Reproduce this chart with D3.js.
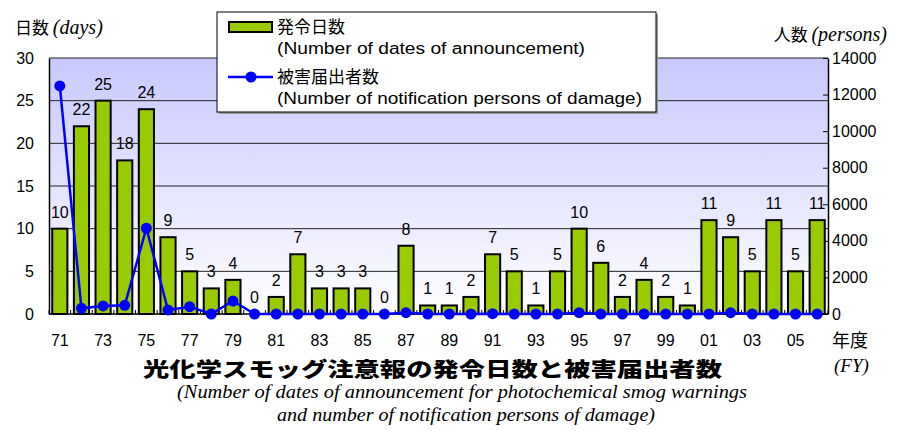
<!DOCTYPE html>
<html>
<head>
<meta charset="utf-8">
<script src="https://cdn.jsdelivr.net/npm/d3@7"></script>
<style>
  body { margin: 0; background: #fff; }
  text { font-family: "Liberation Sans", "Noto Sans CJK JP", sans-serif; }
</style>
</head>
<body>
<div id="chart"></div>
<script>
// data (fiscal years 1971 - 2006)
var years = ["71","72","73","74","75","76","77","78","79","80","81","82","83","84","85","86","87","88",
             "89","90","91","92","93","94","95","96","97","98","99","00","01","02","03","04","05","06"];
var days = [10,22,25,18,24,9,5,3,4,0,2,7,3,3,3,0,8,1,1,2,7,5,1,5,10,6,2,4,2,1,11,9,5,11,5,11];
var persons = [12470,310,440,475,4690,220,400,0,710,0,0,0,0,0,0,0,70,0,0,0,20,0,0,0,70,0,0,0,0,0,0,70,0,0,0,0];
var dayTicks = [0,5,10,15,20,25,30];
var personTicks = [0,2000,4000,6000,8000,10000,12000,14000];
var labelYears = ["71","73","75","77","79","81","83","85","87","89","91","93","95","97","99","01","03","05"];

var W = 898, H = 431;
var pLeft = 49, pRight = 828, pTop = 58, pBottom = 314;

var svg = d3.select("#chart").append("svg")
    .attr("width", W)
    .attr("height", H);

// background gradient of plot area
var grad = svg.append("defs").append("linearGradient")
    .attr("id", "bg").attr("x1", 0).attr("y1", 0).attr("x2", 0).attr("y2", 1);
grad.append("stop").attr("offset", "0%").attr("stop-color", "#c8c8ff");
grad.append("stop").attr("offset", "100%").attr("stop-color", "#ffffff");

var x = d3.scaleBand()
    .domain(years)
    .range([pLeft, pRight])
    .paddingInner(0.3)
    .paddingOuter(0.15);

var y = d3.scaleLinear().domain([0, 30]).range([pBottom, pTop]);
var y2 = d3.scaleLinear().domain([0, 14000]).range([pBottom, pTop]);

svg.append("rect")
    .attr("x", pLeft).attr("y", pTop)
    .attr("width", pRight - pLeft).attr("height", pBottom - pTop)
    .attr("fill", "url(#bg)");

// gridlines
svg.append("g").selectAll("line")
    .data(dayTicks.slice(1))
    .enter().append("line")
    .attr("x1", pLeft).attr("x2", pRight)
    .attr("y1", function(d) { return y(d); })
    .attr("y2", function(d) { return y(d); })
    .attr("stroke", "#222")
    .attr("stroke-width", 1);

// left axis
var gl = svg.append("g")
    .attr("transform", "translate(" + pLeft + ",0)")
    .call(d3.axisLeft(y).tickValues(dayTicks).tickSize(0).tickPadding(15));
gl.select(".domain").attr("stroke", "#000").attr("stroke-width", 1.5);
gl.selectAll("text").style("font-size", "16px").attr("fill", "#000");

// right axis (ticks inside)
var gr = svg.append("g")
    .attr("transform", "translate(" + pRight + ",0)")
    .call(d3.axisRight(y2).tickValues(personTicks).tickFormat(d3.format("d"))
        .tickSizeInner(-5).tickSizeOuter(0).tickPadding(4));
gr.select(".domain").attr("stroke", "#000").attr("stroke-width", 1.5);
gr.selectAll(".tick line").attr("stroke", "#000");
gr.selectAll("text").style("font-size", "16px").attr("fill", "#000");

// bottom axis: small ticks at category boundaries
var step = x.step();
svg.append("g").selectAll("line")
    .data(years.concat(["end"]))
    .enter().append("line")
    .attr("x1", function(d, i) { return pLeft + i * step; })
    .attr("x2", function(d, i) { return pLeft + i * step; })
    .attr("y1", pBottom).attr("y2", pBottom - 4)
    .attr("stroke", "#000");

svg.append("line")
    .attr("x1", pLeft).attr("x2", pRight)
    .attr("y1", pBottom).attr("y2", pBottom)
    .attr("stroke", "#000").attr("stroke-width", 1.5);

svg.append("g").selectAll("text")
    .data(labelYears)
    .enter().append("text")
    .attr("x", function(d) { return x(d) + x.bandwidth() / 2; })
    .attr("y", 346)
    .attr("text-anchor", "middle")
    .style("font-size", "16px")
    .text(function(d) { return d; });

// bars
svg.append("g").selectAll("rect")
    .data(years)
    .enter().append("rect")
    .attr("x", function(d) { return x(d); })
    .attr("y", function(d, i) { return y(days[i]); })
    .attr("width", x.bandwidth())
    .attr("height", function(d, i) { return pBottom - y(days[i]); })
    .attr("fill", "#99cc00")
    .attr("stroke", "#000")
    .attr("stroke-width", 2);

// bar value labels
svg.append("g").selectAll("text")
    .data(years)
    .enter().append("text")
    .attr("x", function(d) { return x(d) + x.bandwidth() / 2; })
    .attr("y", function(d, i) { return y(days[i]) - 11; })
    .attr("text-anchor", "middle")
    .style("font-size", "16px")
    .text(function(d, i) { return days[i]; });

// persons line
var cx = function(d, i) { return x(years[i]) + x.bandwidth() / 2; };
svg.append("path")
    .datum(persons)
    .attr("d", d3.line().x(cx).y(function(d) { return y2(d); }))
    .attr("fill", "none")
    .attr("stroke", "#0000ff")
    .attr("stroke-width", 2.5);

svg.append("g").selectAll("circle")
    .data(persons)
    .enter().append("circle")
    .attr("cx", cx)
    .attr("cy", function(d) { return y2(d); })
    .attr("r", 5.5)
    .attr("fill", "#0000ff");

// axis titles
var t1 = svg.append("text").attr("x", 15).attr("y", 34);
t1.append("tspan").style("font-family", "'Noto Sans CJK JP'").style("font-size", "17px").text("日数 ");
t1.append("tspan").style("font-family", "'Liberation Serif'").style("font-style", "italic")
    .style("font-size", "20px").text("(days)");

var t2 = svg.append("text").attr("x", 887).attr("y", 41).attr("text-anchor", "end");
t2.append("tspan").style("font-family", "'Noto Sans CJK JP'").style("font-size", "17px").text("人数 ");
t2.append("tspan").style("font-family", "'Liberation Serif'").style("font-style", "italic")
    .style("font-size", "20px").text("(persons)");

svg.append("text").attr("x", 832).attr("y", 347)
    .style("font-family", "'Noto Sans CJK JP'").style("font-size", "18px").text("年度");
svg.append("text").attr("x", 834).attr("y", 372)
    .style("font-family", "'Liberation Serif'").style("font-style", "italic").style("font-size", "19px").text("(FY)");

// legend
var lg = svg.append("g");
lg.append("rect").attr("x", 219).attr("y", 14).attr("width", 439).attr("height", 100).attr("fill", "#999");
lg.append("rect").attr("x", 217).attr("y", 12).attr("width", 439).attr("height", 100)
    .attr("fill", "#fff").attr("stroke", "#000").attr("stroke-width", 1);
lg.append("rect").attr("x", 229).attr("y", 22).attr("width", 43).attr("height", 10)
    .attr("fill", "#99cc00").attr("stroke", "#000").attr("stroke-width", 2);
lg.append("line").attr("x1", 228).attr("x2", 273).attr("y1", 77).attr("y2", 77)
    .attr("stroke", "#0000ff").attr("stroke-width", 2.5);
lg.append("circle").attr("cx", 251).attr("cy", 77).attr("r", 5.5).attr("fill", "#0000ff");
lg.append("text").attr("x", 277).attr("y", 33).style("font-family", "'Noto Sans CJK JP'")
    .style("font-size", "17px").text("発令日数");
lg.append("text").attr("x", 277).attr("y", 54).style("font-size", "16px")
    .attr("textLength", 308).attr("lengthAdjust", "spacingAndGlyphs")
    .text("(Number of dates of announcement)");
lg.append("text").attr("x", 277).attr("y", 83).style("font-family", "'Noto Sans CJK JP'")
    .style("font-size", "17px").text("被害届出者数");
lg.append("text").attr("x", 277).attr("y", 104).style("font-size", "16px")
    .attr("textLength", 365).attr("lengthAdjust", "spacingAndGlyphs")
    .text("(Number of notification persons of damage)");

// chart title
svg.append("text").attr("x", 143).attr("y", 377)
    .style("font-family", "'Noto Sans CJK JP'").style("font-weight", "900").style("font-size", "20px")
    .attr("textLength", 579).attr("lengthAdjust", "spacingAndGlyphs")
    .text("光化学スモッグ注意報の発令日数と被害届出者数");
svg.append("text").attr("x", 177).attr("y", 398)
    .style("font-family", "'Liberation Serif'").style("font-style", "italic").style("font-size", "18px")
    .attr("textLength", 570).attr("lengthAdjust", "spacingAndGlyphs")
    .text("(Number of dates of announcement for photochemical smog warnings");
svg.append("text").attr("x", 277).attr("y", 421)
    .style("font-family", "'Liberation Serif'").style("font-style", "italic").style("font-size", "18px")
    .attr("textLength", 378).attr("lengthAdjust", "spacingAndGlyphs")
    .text("and number of notification persons of damage)");
</script>
</body>
</html>
